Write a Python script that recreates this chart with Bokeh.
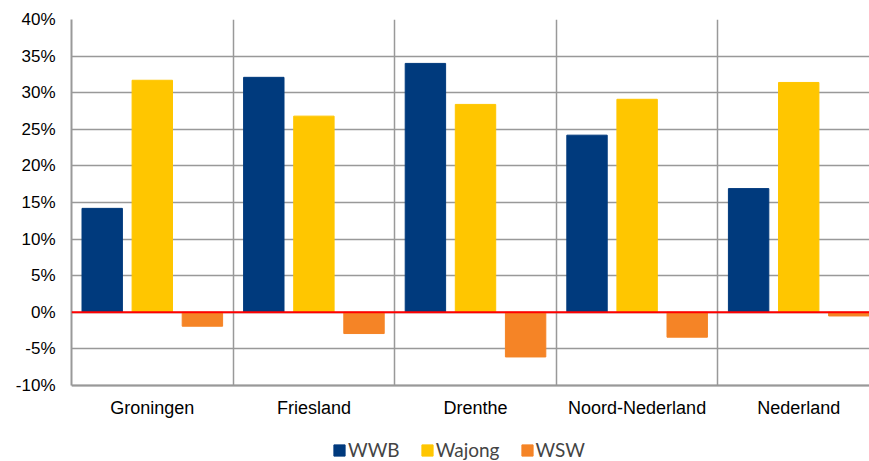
from bokeh.plotting import figure
from bokeh.models import Range1d, FixedTicker, Span, Legend, LegendItem
from bokeh.embed import file_html
from bokeh.resources import INLINE

categories = ["Groningen", "Friesland", "Drenthe", "Noord-Nederland", "Nederland"]
series_names = ["WWB", "Wajong", "WSW"]
wwb = [14.2, 32.1, 34.0, 24.2, 16.9]
wajong = [31.7, 26.8, 28.4, 29.1, 31.4]
wsw = [-1.9, -2.9, -6.1, -3.4, -0.5]
y_ticks = [-10, -5, 0, 5, 10, 15, 20, 25, 30, 35, 40]

colors = ["#003A7D", "#FFC600", "#F58426"]
offsets = [0.19, 0.5, 0.81]
bar_w = 0.25

# frame spans the whole lower area so the legend can sit inside it
p = figure(width=869, height=461, output_backend="svg", toolbar_location=None,
           x_range=Range1d(0, 4.938), y_range=Range1d(-20.38, 40),
           min_border_left=71, min_border_right=0, min_border_top=19, min_border_bottom=0)
p.outline_line_color = None

renderers = []
for vals, col, off in zip([wwb, wajong, wsw], colors, offsets):
    xs = [i + off for i in range(len(categories))]
    r = p.vbar(x=xs, top=vals, bottom=0, width=bar_w, fill_color=col, line_color=col)
    renderers.append(r)

p.add_layout(Span(location=0, dimension="width", line_color="#FF0000", line_width=2))

# y axis
p.yaxis.ticker = FixedTicker(ticks=y_ticks)
p.yaxis.major_label_overrides = {v: f"{v}%" for v in y_ticks}
p.yaxis.bounds = (-10, 40)

# x axis drawn at -10%, minor ticks used as category separators
p.xaxis.fixed_location = -10
p.xaxis.ticker = FixedTicker(ticks=[i + 0.5 for i in range(len(categories))],
                             minor_ticks=[1, 2, 3, 4])
p.xaxis.major_label_overrides = {i + 0.5: c for i, c in enumerate(categories)}
p.xaxis.minor_tick_in = 366
p.xaxis.minor_tick_out = 0
p.xaxis.minor_tick_line_color = "#999999"
p.xaxis.minor_tick_line_width = 1.5

for ax in (p.xaxis[0], p.yaxis[0]):
    ax.axis_line_color = "#999999"
    ax.axis_line_width = 2
    ax.major_tick_line_color = None
    ax.major_tick_out = 0
    ax.major_tick_in = 0
    ax.major_label_text_font = "Liberation Sans"
    ax.major_label_text_color = "#000000"
p.yaxis.minor_tick_line_color = None
p.yaxis.major_label_text_font_size = "17px"
p.yaxis.major_label_standoff = 16
p.xaxis.major_label_text_font_size = "18px"
p.xaxis.major_label_standoff = 12

p.ygrid.ticker = FixedTicker(ticks=y_ticks)
p.ygrid.grid_line_color = "#999999"
p.ygrid.grid_line_width = 1.5
p.xgrid.grid_line_color = None

legend = Legend(items=[LegendItem(label=n, renderers=[r]) for n, r in zip(series_names, renderers)],
                orientation="horizontal", location=(261, 0),
                glyph_width=14, glyph_height=14, label_standoff=2, spacing=20,
                label_text_font="Lato", label_text_font_size="19px",
                border_line_color=None, background_fill_alpha=0, padding=0, margin=0)
p.add_layout(legend, "center")

open("out.html", "w").write(file_html(p, INLINE))
